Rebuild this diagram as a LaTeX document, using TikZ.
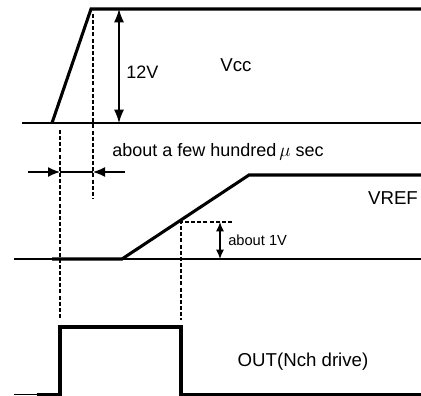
\documentclass[tikz,border=0pt]{standalone}
\usepackage{fontspec}
\setmainfont{Liberation Sans}
\usetikzlibrary{arrows.meta}

\begin{document}
\begin{tikzpicture}[
  x=0.75pt, y=-0.75pt,
  axis/.style={line width=1.1pt},
  wave/.style={line width=2.3pt, line join=miter},
  guide/.style={line width=0.9pt, dash pattern=on 3pt off 1.6pt},
  dimline/.style={line width=1pt, -{Latex[length=9pt,width=7.5pt]}},
  dimboth/.style={line width=1pt, {Latex[length=10pt,width=7.5pt]}-{Latex[length=10pt,width=7.5pt]}},
  dimsmall/.style={line width=0.9pt, {Latex[length=7pt,width=6pt]}-{Latex[length=7pt,width=6pt]}},
  sig/.style={font=\fontsize{14}{16}\selectfont, inner sep=0pt},
  note/.style={anchor=west, font=\fontsize{13.5}{15}\selectfont, inner sep=0pt},
  small/.style={anchor=west, font=\fontsize{11}{13}\selectfont, inner sep=0pt},
]
\useasboundingbox (0,0) rectangle (421,396);

% ---- Vcc ---------------------------------------------------------------
\coordinate (vccL)    at (22,123);
\coordinate (vccR)    at (421,123);
\coordinate (vccRise) at (52,123);
\coordinate (vccTop)  at (91,9);
\coordinate (vccEnd)  at (421,9);
\draw[axis] (vccL) -- (vccR);
\draw[wave] (vccRise) -- (vccTop) -- (vccEnd);
\coordinate (v12top) at (119,9);
\coordinate (v12bot) at (119,123);
\draw[dimboth] (v12top) -- (v12bot);
\node[note] (v12) at (126,72) {12V};
\node[sig] (vcc) at (236,65) {Vcc};

% ---- time guides -------------------------------------------------------
\coordinate (gA1) at (60,130);
\coordinate (gA2) at (60,320);
\coordinate (gB1) at (93,14);
\coordinate (gB2) at (93,199);
\draw[guide] (gA1) -- (gA2);
\draw[guide] (gB1) -- (gB2);
\coordinate (tL) at (28,172);
\coordinate (tLtip) at (60,172);
\coordinate (tR) at (125,172);
\coordinate (tRtip) at (93,172);
\draw[dimline] (tL) -- (tLtip);
\draw[dimline] (tR) -- (tRtip);
\draw[line width=1pt] (tLtip) -- (tRtip);
\node[note] (tdelay) at (112,152) {about a few hundred\,$\mu$ sec};

% ---- VREF --------------------------------------------------------------
\coordinate (refL)    at (14,259);
\coordinate (refR)    at (421,259);
\coordinate (refLow)  at (52,259);
\coordinate (refKnee) at (122,259);
\coordinate (refTop)  at (249,175);
\coordinate (refEnd)  at (421,175);
\draw[axis] (refL) -- (refR);
\draw[wave] (refLow) -- (refKnee) -- (refTop) -- (refEnd);
\node[sig] (vref) at (393,198) {VREF};
\coordinate (gC1) at (181,222);
\coordinate (gC2) at (181,320);
\coordinate (gC3) at (232,222);
\draw[guide] (gC3) -- (gC1) -- (gC2);
\coordinate (v1top) at (220,222);
\coordinate (v1bot) at (220,259);
\draw[dimsmall] (v1top) -- (v1bot);
\node[small] (v1) at (228,240) {about 1V};

% ---- OUT ---------------------------------------------------------------
\coordinate (outL)    at (14,394.5);
\coordinate (outLow)  at (37,394.5);
\coordinate (outUp)   at (60,394.5);
\coordinate (outHiA)  at (60,327);
\coordinate (outHiB)  at (181,327);
\coordinate (outDown) at (181,394.5);
\coordinate (outEnd)  at (421,394.5);
\draw[axis] (outL) -- (outLow);
\draw[wave] (outLow) -- (outUp) -- (outHiA) -- (outHiB) -- (outDown) -- (outEnd);
\node[sig] (out) at (303,362) {OUT(Nch drive)};
\end{tikzpicture}
\end{document}
